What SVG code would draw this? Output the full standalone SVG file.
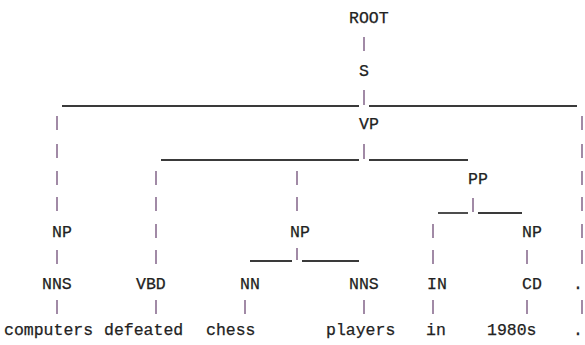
<svg xmlns="http://www.w3.org/2000/svg" width="585" height="345" viewBox="0 0 585 345">
<style>
text{font-family:"Liberation Mono","Courier New",monospace;font-size:16.5px;fill:#222;stroke:#222;stroke-width:0.25}
.bar{stroke:#8a6d90;stroke-width:1.6}
.h{stroke:#3a3a3a;stroke-width:1.8}
</style>
<rect width="585" height="345" fill="#fff"/>
<g id="connectors">
<line class="bar" x1="364" y1="37" x2="364" y2="51"/>
<line class="bar" x1="364" y1="90" x2="364" y2="105"/>
<line class="bar" x1="364" y1="144" x2="364" y2="159"/>
<line class="h" x1="62" y1="106" x2="359" y2="106"/>
<line class="h" x1="369" y1="106" x2="577" y2="106"/>
<line class="h" x1="161" y1="160" x2="359" y2="160"/>
<line class="h" x1="369" y1="160" x2="468" y2="160"/>
<line class="h" x1="438" y1="213" x2="468" y2="213"/>
<line class="h" x1="478" y1="213" x2="522" y2="213"/>
<line class="h" x1="250" y1="261" x2="292" y2="261"/>
<line class="h" x1="302" y1="261" x2="359" y2="261"/>
<g id="bars-left">
<line class="bar" x1="57" y1="116" x2="57" y2="130"/>
<line class="bar" x1="57" y1="144" x2="57" y2="158"/>
<line class="bar" x1="57" y1="171" x2="57" y2="185"/>
<line class="bar" x1="57" y1="197" x2="57" y2="211"/>
<line class="bar" x1="57" y1="250" x2="57" y2="264"/>
<line class="bar" x1="57" y1="300" x2="57" y2="314"/>
</g>
<g id="bars-vbd">
<line class="bar" x1="156" y1="171" x2="156" y2="185"/>
<line class="bar" x1="156" y1="197" x2="156" y2="211"/>
<line class="bar" x1="156" y1="224" x2="156" y2="238"/>
<line class="bar" x1="156" y1="250" x2="156" y2="264"/>
<line class="bar" x1="156" y1="300" x2="156" y2="314"/>
</g>
<g id="bars-np2">
<line class="bar" x1="297" y1="171" x2="297" y2="185"/>
<line class="bar" x1="297" y1="197" x2="297" y2="211"/>
<line class="bar" x1="297" y1="248" x2="297" y2="260"/>
</g>
<line class="bar" x1="245" y1="300" x2="245" y2="314"/>
<line class="bar" x1="364" y1="300" x2="364" y2="314"/>
<line class="bar" x1="473" y1="198" x2="473" y2="212"/>
<g id="bars-in">
<line class="bar" x1="433" y1="224" x2="433" y2="238"/>
<line class="bar" x1="433" y1="250" x2="433" y2="264"/>
<line class="bar" x1="433" y1="300" x2="433" y2="314"/>
</g>
<line class="bar" x1="527" y1="250" x2="527" y2="264"/>
<line class="bar" x1="527" y1="300" x2="527" y2="314"/>
<g id="bars-right">
<line class="bar" x1="582" y1="116" x2="582" y2="130"/>
<line class="bar" x1="582" y1="144" x2="582" y2="158"/>
<line class="bar" x1="582" y1="171" x2="582" y2="185"/>
<line class="bar" x1="582" y1="197" x2="582" y2="211"/>
<line class="bar" x1="582" y1="224" x2="582" y2="238"/>
<line class="bar" x1="582" y1="250" x2="582" y2="264"/>
<line class="bar" x1="582" y1="300" x2="582" y2="314"/>
</g>
</g>
<g id="root"><text x="349" y="22.5">ROOT</text></g>
<g id="s"><text x="359" y="75.5">S</text></g>
<g id="vp"><text x="359" y="128.5">VP</text></g>
<g id="pp"><text x="468" y="183.5">PP</text></g>
<g id="np1"><text x="52" y="236.5">NP</text></g>
<g id="np2"><text x="290" y="236.5">NP</text></g>
<g id="np3"><text x="522" y="236.5">NP</text></g>
<g id="nns1"><text x="42" y="289">NNS</text></g>
<g id="vbd"><text x="136" y="289">VBD</text></g>
<g id="nn"><text x="240" y="289">NN</text></g>
<g id="nns2"><text x="349" y="289">NNS</text></g>
<g id="in"><text x="427" y="289">IN</text></g>
<g id="cd"><text x="522" y="289">CD</text></g>
<g id="punct"><text x="573" y="289">.</text></g>
<g id="w-computers"><text x="4" y="335">computers</text></g>
<g id="w-defeated"><text x="104" y="335">defeated</text></g>
<g id="w-chess"><text x="206" y="335">chess</text></g>
<g id="w-players"><text x="326" y="335">players</text></g>
<g id="w-in"><text x="426" y="335">in</text></g>
<g id="w-1980s"><text x="487" y="335">1980s</text></g>
<g id="w-dot"><text x="573" y="335">.</text></g>
</svg>
